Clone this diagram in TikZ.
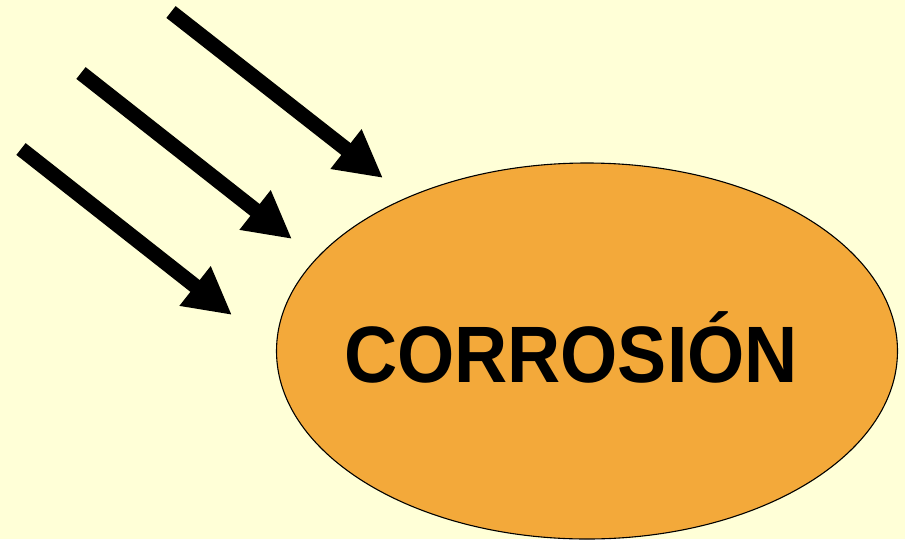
\documentclass[tikz,border=0pt]{standalone}
\usepackage{fontspec}
\newfontfamily\corrfont[FakeStretch=0.92]{Liberation Sans Bold}
\usepackage{tikz}
\usetikzlibrary{arrows.meta,positioning,shapes.geometric,calc}
\definecolor{paper}{RGB}{255,255,215}
\definecolor{rust}{RGB}{243,169,58}
\tikzset{
  blob/.style={ellipse, draw=black, line width=1.1pt, fill=rust,
    minimum width=621pt, minimum height=376pt, inner sep=0pt},
  ray/.style={line width=15pt, -{Triangle[length=47pt,width=47pt]}},
  word/.style={font=\corrfont\fontsize{80}{82}\selectfont, anchor=base}
}

\begin{document}
\begin{tikzpicture}[x=1pt,y=-1pt]
% page and background
\useasboundingbox (0,0) rectangle (905,539);
\fill[paper] (0,0) rectangle (905,539);

% the corroded body
\node[blob] (corrosion) at (587,351) {};
\node[word] (label) at ($(corrosion.center)+(-16,31)$) {CORROSIÓN};

% incoming attack
\foreach \n/\sx/\sy/\ex/\ey in {1/171/12/383/178, 2/81/73/292/239, 3/21/149/232/315}{
    \coordinate (tail\n) at (\sx,\sy);
    \coordinate (tip\n) at (\ex,\ey);
    \draw[ray] (tail\n) -- (tip\n);
}
\end{tikzpicture}
\end{document}
